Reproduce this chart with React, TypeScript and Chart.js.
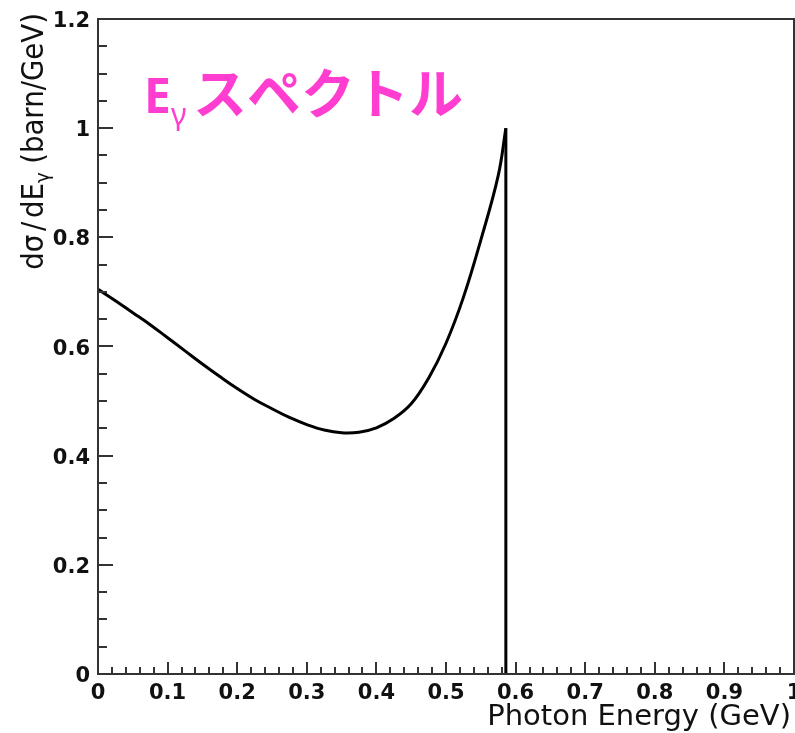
import React, { useEffect, useRef } from "react";
import { Chart, registerables } from "chart.js";

Chart.register(...registerables);

// Curve: photon energy (GeV) vs dσ/dEγ (barn/GeV)
const energies = [0, 0.025, 0.05, 0.075, 0.1, 0.125, 0.15, 0.175, 0.2, 0.225, 0.25, 0.275, 0.3, 0.325, 0.35, 0.375, 0.4, 0.425, 0.45, 0.475, 0.5, 0.525, 0.55, 0.575, 0.586];
const crossSection = [0.705, 0.684, 0.662, 0.64, 0.616, 0.592, 0.568, 0.545, 0.523, 0.503, 0.486, 0.47, 0.457, 0.447, 0.442, 0.443, 0.451, 0.468, 0.495, 0.542, 0.606, 0.69, 0.795, 0.913, 1.0];
// Compton edge: vertical drop
const edgeEnergies = [0.586, 0.586];
const edgeValues = [1.0, 0];

const xTickValues = [0, 0.1, 0.2, 0.3, 0.4, 0.5, 0.6, 0.7, 0.8, 0.9, 1];
const xTickLabels = ["0", "0.1", "0.2", "0.3", "0.4", "0.5", "0.6", "0.7", "0.8", "0.9", "1"];
const yTickValues = [0, 0.2, 0.4, 0.6, 0.8, 1, 1.2];
const yTickLabels = ["0", "0.2", "0.4", "0.6", "0.8", "1", "1.2"];

const xTitle = "Photon Energy (GeV)";
const yTitleParts = ["dσ", "/", "dE"];
const yTitleSub = "γ";
const yTitleUnit = "(barn/GeV)";
const titleMain = "E";
const titleSub = "γ";
const titleKana = "スペクトル";

const W = 795;
const H = 733;

const rootAxesPlugin = {
  id: "rootAxes",
  afterDraw(chart: any) {
    const ctx = chart.ctx;
    const { left, right, top, bottom } = chart.chartArea;
    const xs = chart.scales.x;
    const ys = chart.scales.y;
    ctx.save();
    // frame
    ctx.strokeStyle = "#333";
    ctx.lineWidth = 2;
    ctx.strokeRect(left, top, right - left, bottom - top);
    // x ticks
    for (let i = 0; i <= 50; i++) {
      const v = i * 0.02;
      const px = Math.round(xs.getPixelForValue(v));
      const len = i % 5 === 0 ? 12 : 7;
      ctx.beginPath();
      ctx.moveTo(px, bottom);
      ctx.lineTo(px, bottom - len);
      ctx.stroke();
    }
    // y ticks
    for (let i = 0; i <= 24; i++) {
      const v = i * 0.05;
      const py = Math.round(ys.getPixelForValue(v));
      const len = i % 4 === 0 ? 15 : 9;
      ctx.beginPath();
      ctx.moveTo(left, py);
      ctx.lineTo(left + len, py);
      ctx.stroke();
    }
    // tick labels
    ctx.fillStyle = "#111";
    ctx.font = "bold 21px 'DejaVu Sans'";
    ctx.textAlign = "center";
    ctx.textBaseline = "alphabetic";
    xTickValues.forEach((v, i) => {
      ctx.fillText(xTickLabels[i], xs.getPixelForValue(v), bottom + 25);
    });
    ctx.textAlign = "right";
    yTickValues.forEach((v, i) => {
      ctx.fillText(yTickLabels[i], left - 8, ys.getPixelForValue(v) + 8);
    });
    // x axis title
    ctx.font = "29px 'DejaVu Sans'";
    ctx.textAlign = "right";
    ctx.fillText(xTitle, right - 3, bottom + 51);
    // y axis title (rotated, ends at the top)
    ctx.save();
    ctx.translate(43, top - 6);
    ctx.rotate(-Math.PI / 2);
    ctx.scale(0.92, 1);
    ctx.textAlign = "left";
    ctx.textBaseline = "alphabetic";
    const big = "30px 'DejaVu Sans'";
    const small = "20px 'DejaVu Sans'";
    const gap = 4;
    const unitGap = 9;
    ctx.font = big;
    const wParts = yTitleParts.map((p) => ctx.measureText(p).width);
    const wUnit = ctx.measureText(yTitleUnit).width;
    ctx.font = small;
    const wSub = ctx.measureText(yTitleSub).width;
    const total = wParts.reduce((a, b) => a + b, 0) + gap * 2 + wSub + unitGap + wUnit;
    let cx = -total;
    ctx.font = big;
    yTitleParts.forEach((p, i) => {
      ctx.fillText(p, cx, 0);
      cx += wParts[i] + (i < yTitleParts.length - 1 ? gap : 0);
    });
    ctx.font = small;
    ctx.fillText(yTitleSub, cx, 6);
    cx += wSub + unitGap;
    ctx.font = big;
    ctx.fillText(yTitleUnit, cx, 0);
    ctx.restore();
    // pink title
    ctx.fillStyle = "#ff3dd0";
    ctx.textAlign = "left";
    ctx.textBaseline = "alphabetic";
    ctx.font = "bold 48px 'Noto Sans'";
    ctx.fillText(titleMain, 144, 113);
    ctx.font = "30px 'Noto Sans'";
    ctx.fillText(titleSub, 171, 125);
    ctx.font = "bold 54px 'Noto Sans CJK JP'";
    ctx.fillText(titleKana, 193, 114);
    ctx.restore();
  },
};

export default function App() {
  const ref = useRef<HTMLCanvasElement | null>(null);
  useEffect(() => {
    document.body.style.margin = "0";
    const canvas = ref.current;
    if (!canvas) return;
    const chart = new Chart(canvas, {
      type: "line",
      data: {
        datasets: [
          {
            data: energies.map((e, i) => ({ x: e, y: crossSection[i] })),
            borderColor: "#000",
            borderWidth: 3,
            pointRadius: 0,
            tension: 0.4,
            fill: false,
          },
          {
            data: edgeEnergies.map((e, i) => ({ x: e, y: edgeValues[i] })),
            borderColor: "#000",
            borderWidth: 3,
            pointRadius: 0,
            tension: 0,
            fill: false,
          },
        ],
      },
      options: {
        animation: false,
        responsive: false,
        devicePixelRatio: 1,
        layout: { padding: { left: 98, top: 19, right: 1, bottom: 59 } },
        plugins: { legend: { display: false }, tooltip: { enabled: false }, title: { display: false } },
        scales: {
          x: { type: "linear", min: 0, max: 1, display: false },
          y: { type: "linear", min: 0, max: 1.2, display: false },
        },
      },
      plugins: [rootAxesPlugin],
    } as any);
    return () => chart.destroy();
  }, []);
  return (
    <div style={{ width: W, height: H, background: "#fff" }}>
      <canvas ref={ref} width={W} height={H} style={{ display: "block", width: W, height: H }} />
    </div>
  );
}
